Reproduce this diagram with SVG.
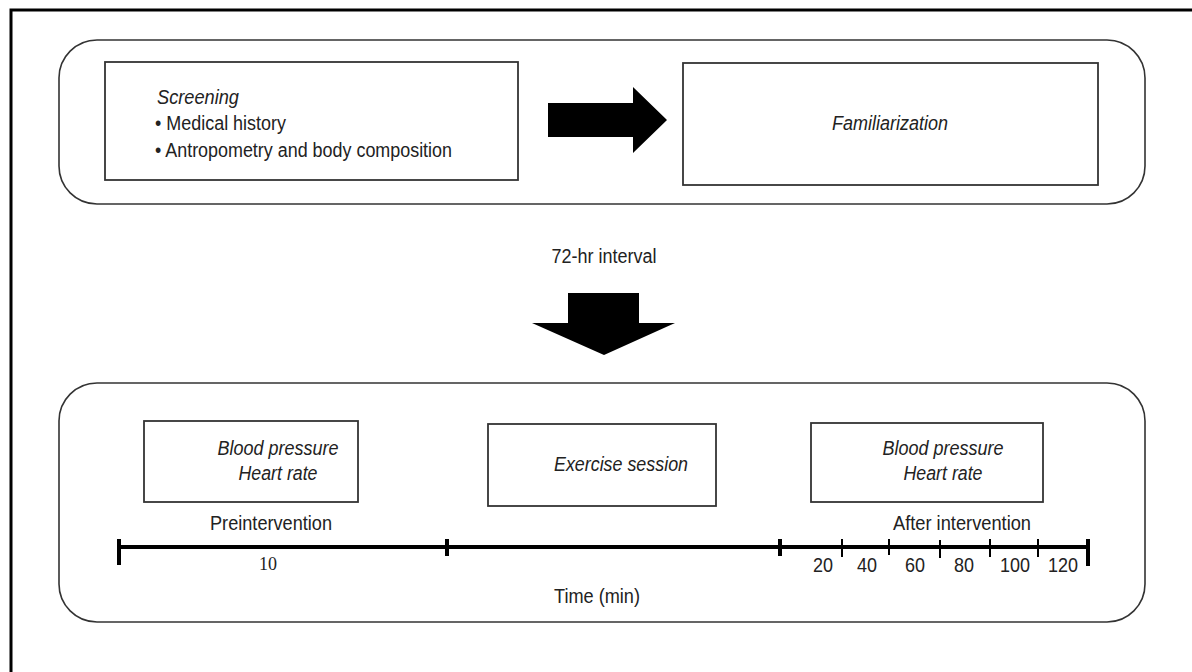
<svg xmlns="http://www.w3.org/2000/svg" width="1192" height="672" viewBox="0 0 1192 672">
<style>
.t{font-family:"Liberation Sans",Arial,sans-serif;font-size:19.5px;fill:#222}
.i{font-style:italic}
.c{text-anchor:middle}
.panel{fill:none;stroke:#333;stroke-width:1.6}
.box{fill:#fff;stroke:#333;stroke-width:1.8}
.tl{stroke:#000;stroke-width:4;fill:none}
.tk{stroke:#000;stroke-width:2;fill:none}
</style>
<rect width="1192" height="672" fill="#fff"/>
<path d="M11 672 V10 H1192" fill="none" stroke="#000" stroke-width="3"/>
<g id="panel-top"><rect class="panel" x="59" y="40" width="1086" height="164" rx="38" ry="38"/></g>
<g id="panel-bottom"><rect class="panel" x="59" y="383" width="1086" height="239" rx="38" ry="38"/></g>
<g id="screening">
<rect class="box" x="105" y="62" width="413" height="118"/>
<text class="t i" x="157" y="104" textLength="82" lengthAdjust="spacingAndGlyphs">Screening</text>
<text class="t" x="155" y="130" textLength="131" lengthAdjust="spacingAndGlyphs">• Medical history</text>
<text class="t" x="155" y="157" textLength="297" lengthAdjust="spacingAndGlyphs">• Antropometry and body composition</text>
</g>
<g id="familiarization">
<rect class="box" x="683" y="63" width="415" height="122"/>
<text class="t i c" x="890" y="130" textLength="116" lengthAdjust="spacingAndGlyphs">Familiarization</text>
</g>
<g id="interval">
<text class="t c" x="604" y="263" textLength="105" lengthAdjust="spacingAndGlyphs">72-hr interval</text>
</g>
<g id="pre">
<rect class="box" x="144" y="421" width="214" height="81"/>
<text class="t i c" x="278" y="455" textLength="121" lengthAdjust="spacingAndGlyphs">Blood pressure</text>
<text class="t i c" x="278" y="480" textLength="79" lengthAdjust="spacingAndGlyphs">Heart rate</text>
</g>
<g id="exercise">
<rect class="box" x="488" y="424" width="228" height="82"/>
<text class="t i c" x="621" y="471" textLength="134" lengthAdjust="spacingAndGlyphs">Exercise session</text>
</g>
<g id="post">
<rect class="box" x="811" y="423" width="232" height="79"/>
<text class="t i c" x="943" y="455" textLength="121" lengthAdjust="spacingAndGlyphs">Blood pressure</text>
<text class="t i c" x="943" y="480" textLength="79" lengthAdjust="spacingAndGlyphs">Heart rate</text>
</g>
<g id="connectors">
<polygon points="548,103 633,103 633,87 667,120 633,153 633,137 548,137" fill="#000"/>
<polygon points="568,293 639,293 639,323 675,323 604,355 532,323 568,323" fill="#000"/>
</g>
<g id="timeline">
<line class="tl" x1="119" y1="547" x2="1088" y2="547"/>
<line class="tl" x1="119" y1="539" x2="119" y2="565"/>
<line class="tl" x1="447" y1="539" x2="447" y2="556"/>
<line class="tl" x1="780" y1="539" x2="780" y2="556"/>
<line class="tl" x1="1088" y1="539" x2="1088" y2="566"/>
<line class="tk" x1="842" y1="539" x2="842" y2="557"/>
<line class="tk" x1="889" y1="539" x2="889" y2="555"/>
<line class="tk" x1="940" y1="540" x2="940" y2="558"/>
<line class="tk" x1="990" y1="539" x2="990" y2="557"/>
<line class="tk" x1="1038" y1="539" x2="1038" y2="557"/>
<text class="t c" x="271" y="530" textLength="122" lengthAdjust="spacingAndGlyphs">Preintervention</text>
<text class="t c" x="962" y="530" textLength="138" lengthAdjust="spacingAndGlyphs">After intervention</text>
<text class="c" x="268" y="570" font-family="'Liberation Serif','Times New Roman',serif" font-size="18" fill="#222">10</text>
<text class="t c" x="823" y="572" textLength="20" lengthAdjust="spacingAndGlyphs">20</text>
<text class="t c" x="867" y="572" textLength="20" lengthAdjust="spacingAndGlyphs">40</text>
<text class="t c" x="915" y="572" textLength="20" lengthAdjust="spacingAndGlyphs">60</text>
<text class="t c" x="964" y="572" textLength="20" lengthAdjust="spacingAndGlyphs">80</text>
<text class="t c" x="1015" y="572" textLength="30" lengthAdjust="spacingAndGlyphs">100</text>
<text class="t c" x="1063" y="572" textLength="30" lengthAdjust="spacingAndGlyphs">120</text>
<text class="t c" x="597" y="603" textLength="86" lengthAdjust="spacingAndGlyphs">Time (min)</text>
</g>
</svg>
